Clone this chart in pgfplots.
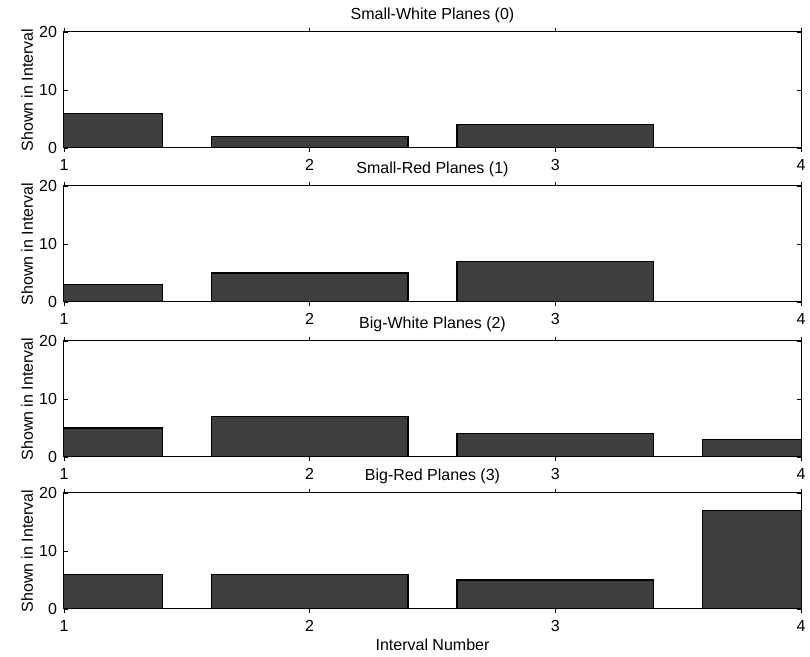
\documentclass[border=0pt]{standalone}
\usepackage{fontspec}
\setmainfont{Liberation Sans}
\usepackage{pgfplots}
\pgfplotsset{compat=1.18}
\definecolor{barc}{RGB}{62,62,62}
\newcommand{\fs}{\fontsize{8}{9.6}\selectfont}
\pgfplotsset{panel/.style={
  scale only axis, width=368.5pt, height=58pt,
  anchor=south west,
  xmin=1, xmax=4, ymin=0, ymax=20,
  xtick={1,2,3,4}, ytick={0,10,20},
  tick align=inside, major tick length=2pt,
  ybar, bar width=0.8,
  ylabel={Shown in Interval},
  ylabel style={at={(axis description cs:-0.05,0.5)}, anchor=center},
  xlabel style={yshift=3pt},
  axis line style={line width=0.5pt},
  every tick/.style={black, line width=0.4pt},
  /pgf/number format/assume math mode=true,
  tick label style={font=\fs},
  label style={font=\fs},
  title style={font=\fs, yshift=-5pt},
}}
\begin{document}
\begin{tikzpicture}
\useasboundingbox (0,0) rectangle (405pt,328.5pt);
\begin{axis}[panel, at={(32pt,254.5pt)}, title={Small-White Planes (0)}]
\addplot[fill=barc, draw=black, line width=0.6pt] coordinates {(1,6) (2,2) (3,4) (4,0)};
\end{axis}
\begin{axis}[panel, at={(32pt,177.5pt)}, title={Small-Red Planes (1)}]
\addplot[fill=barc, draw=black, line width=0.6pt] coordinates {(1,3) (2,5) (3,7) (4,0)};
\end{axis}
\begin{axis}[panel, at={(32pt,100pt)}, title={Big-White Planes (2)}]
\addplot[fill=barc, draw=black, line width=0.6pt] coordinates {(1,5) (2,7) (3,4) (4,3)};
\end{axis}
\begin{axis}[panel, at={(32pt,24pt)}, title={Big-Red Planes (3)}, xlabel={Interval Number}]
\addplot[fill=barc, draw=black, line width=0.6pt] coordinates {(1,6) (2,6) (3,5) (4,17)};
\end{axis}
\end{tikzpicture}
\end{document}
